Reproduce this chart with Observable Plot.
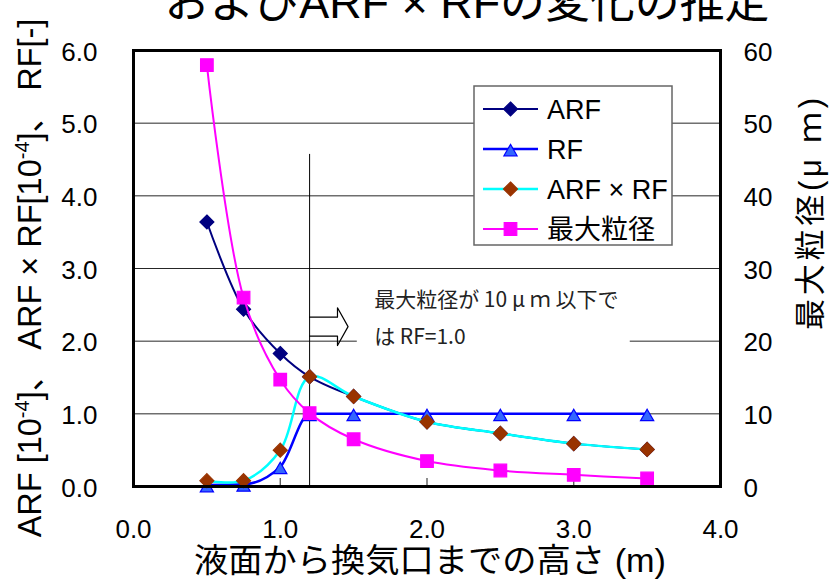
<!DOCTYPE html>
<html>
<head>
<meta charset="utf-8">
<script src="https://cdn.jsdelivr.net/npm/d3@7"></script>
<script src="https://cdn.jsdelivr.net/npm/@observablehq/plot@0.6"></script>
<style>
  body { margin: 0; background: #fff; }
  #chart { width: 832px; height: 580px; overflow: hidden; }
</style>
</head>
<body>
<div id="chart"></div>
<script>
// Height from the liquid surface to the vent (m)
const heights = [0.5, 0.75, 1.0, 1.2, 1.5, 2.0, 2.5, 3.0, 3.5];
// Airborne release fraction [10^-4]
const arf = [3.64, 2.44, 1.83, 1.51, 1.24, 0.89, 0.73, 0.59, 0.51];
// Respirable fraction [-]
const rf = [0.02, 0.03, 0.27, 1.0, 1.0, 1.0, 1.0, 1.0, 1.0];
// ARF x RF [10^-4]
const arfRf = [0.08, 0.08, 0.50, 1.51, 1.24, 0.89, 0.73, 0.59, 0.51];
// Maximum particle diameter (µm), right axis
const maxSize = [58, 26, 14.7, 10.1, 6.5, 3.5, 2.2, 1.6, 1.1];

const xTicks = [0, 1, 2, 3, 4];
const yTicks = [0, 1, 2, 3, 4, 5, 6];
const gridLines = [1, 2, 3, 4, 5];
const innerXTicks = [1, 2, 3];
const sizePerUnit = 10; // right axis (µm) per left-axis unit

// Height at which the maximum particle size falls to 10 µm
const threshold = { x: 1.2, yTop: 4.57 };
const noteLines = ["最大粒径が 10 μ ｍ 以下で", "は RF=1.0"];

const FONT = '"Liberation Sans", Arial, "Noto Sans CJK JP", sans-serif';
const JFONT = '"Noto Sans CJK JP", sans-serif';

const series = [
  { name: "ARF", values: arf, line: "#000080", width: 2, curve: "catmull-rom", symbol: d3.symbolDiamond2, r: 6.3, fill: "#000080", stroke: "#000080", dy: 0 },
  { name: "RF", values: rf, line: "#0000FF", width: 2.5, curve: "monotone-x", symbol: d3.symbolTriangle2, r: 6.3, fill: "#3366FF", stroke: "#0000FF", dy: 3 },
  { name: "ARF × RF", values: arfRf, line: "#00FFFF", width: 2.5, curve: "catmull-rom", symbol: d3.symbolDiamond2, r: 6.3, fill: "#993300", stroke: "#993300", dy: 0 },
  { name: "最大粒径", values: maxSize.map(v => v / sizePerUnit), line: "#FF00FF", width: 2, curve: "catmull-rom", symbol: d3.symbolSquare, r: 7.1, fill: "#FF00FF", stroke: "#FF00FF", dy: 0 }
];

// Block arrow pointing right from the threshold line (data units)
const arrowSpec = { y: 2.2, shaftEnd: 0.19, tip: 0.262, shaftHalf: 0.13, headHalf: 0.26 };
const ax = threshold.x;
const arrowPts = [
  [ax, arrowSpec.y + arrowSpec.shaftHalf],
  [ax + arrowSpec.shaftEnd, arrowSpec.y + arrowSpec.shaftHalf],
  [ax + arrowSpec.shaftEnd, arrowSpec.y + arrowSpec.headHalf],
  [ax + arrowSpec.tip, arrowSpec.y],
  [ax + arrowSpec.shaftEnd, arrowSpec.y - arrowSpec.headHalf],
  [ax + arrowSpec.shaftEnd, arrowSpec.y - arrowSpec.shaftHalf],
  [ax, arrowSpec.y - arrowSpec.shaftHalf]
];

// Note box placement (data units)
const noteBox = { x1: 1.525, x2: 3.385, y1: 1.85, y2: 2.78, textX: 1.64, line1Y: 2.56, line2Y: 2.06 };

const seriesMarks = series.flatMap(s => {
  const rows = heights.map((h, i) => ({ h, v: s.values[i] }));
  return [
    Plot.line(rows, { x: "h", y: "v", stroke: s.line, strokeWidth: s.width, curve: s.curve }),
    Plot.dot(rows, { x: "h", y: "v", symbol: s.symbol, r: s.r, fill: s.fill, stroke: s.stroke, strokeWidth: 1.2, dy: s.dy })
  ];
});

const plot = Plot.plot({
  width: 832,
  height: 580,
  marginLeft: 133,
  marginRight: 112,
  marginTop: 50,
  marginBottom: 94,
  x: { domain: [0, 4] },
  y: { domain: [0, 6] },
  style: { fontFamily: FONT, fontSize: "26px", color: "#000", background: "#fff" },
  marks: [
    Plot.ruleY(gridLines, { stroke: "#000", strokeWidth: 1, strokeOpacity: 0.85 }),
    Plot.tickX(innerXTicks, { x: d => d, insetTop: 428, stroke: "#444", strokeWidth: 1.2 }),
    Plot.axisX({ ticks: xTicks, tickSize: 0, tickPadding: 33, tickFormat: d3.format(".1f"), fontSize: 26, label: null }),
    Plot.axisY({ anchor: "left", ticks: yTicks, tickSize: 0, tickPadding: 36, dy: 2, tickFormat: d3.format(".1f"), fontSize: 26, label: null }),
    Plot.axisY({ anchor: "right", ticks: yTicks, tickSize: 0, tickPadding: 23, dy: 2, tickFormat: d => d3.format("d")(d * sizePerUnit), fontSize: 26, label: null }),
    Plot.rect([noteBox], { x1: "x1", x2: "x2", y1: "y1", y2: "y2", fill: "#fff" }),
    Plot.ruleX([threshold], { x: "x", y1: 0, y2: "yTop", stroke: "#000", strokeWidth: 1 }),
    Plot.line(arrowPts, { x: d => d[0], y: d => d[1], stroke: "#000", strokeWidth: 1.2, fill: "none" }),
    Plot.text([noteLines[0]], { x: noteBox.textX, y: noteBox.line1Y, text: d => d, textAnchor: "start", fontSize: 21, fontFamily: JFONT, fill: "#222" }),
    Plot.text([noteLines[1]], { x: noteBox.textX, y: noteBox.line2Y, text: d => d, textAnchor: "start", fontSize: 21, fontFamily: JFONT, fill: "#222" }),
    ...seriesMarks,
    Plot.frame({ stroke: "#000", strokeWidth: 3 })
  ]
});

const svg = d3.select(plot);

// Title (its upper half runs off the top of the page)
svg.append("text")
  .attr("x", 467).attr("y", 18)
  .attr("text-anchor", "middle")
  .attr("font-family", FONT).attr("font-size", 45)
  .attr("textLength", 605).attr("lengthAdjust", "spacingAndGlyphs")
  .text("およびARF × RFの変化の推定");

// Left axis title with superscripts
const lt = svg.append("text")
  .attr("transform", "translate(29,278) rotate(-90)")
  .attr("text-anchor", "middle")
  .attr("dy", "0.36em")
  .attr("font-family", FONT).attr("font-size", 32.5);
lt.append("tspan").text("ARF [10");
lt.append("tspan").attr("dy", -12).attr("font-size", 20).text("-4");
lt.append("tspan").attr("dy", 12).text("]、 ARF × RF[10");
lt.append("tspan").attr("dy", -12).attr("font-size", 20).text("-4");
lt.append("tspan").attr("dy", 12).text("]、 RF[-]");

// Right axis title
svg.append("text")
  .attr("transform", "translate(810,214) rotate(-90)")
  .attr("text-anchor", "middle")
  .attr("dy", "0.36em")
  .attr("font-family", FONT).attr("font-size", 31)
  .attr("textLength", 232).attr("lengthAdjust", "spacing")
  .text("最大粒径(μ ｍ)");

// X axis title
svg.append("text")
  .attr("x", 430).attr("y", 572)
  .attr("text-anchor", "middle")
  .attr("font-family", FONT).attr("font-size", 33)
  .attr("textLength", 472).attr("lengthAdjust", "spacingAndGlyphs")
  .text("液面から換気口までの高さ (m)");

// Legend
const lg = svg.append("g").attr("transform", "translate(474,86)");
lg.append("rect").attr("width", 198).attr("height", 159)
  .attr("fill", "#fff").attr("stroke", "#666").attr("stroke-width", 1.5);
series.forEach((s, i) => {
  const cy = 23 + i * 40;
  lg.append("line").attr("x1", 9).attr("x2", 64).attr("y1", cy).attr("y2", cy)
    .attr("stroke", s.line).attr("stroke-width", s.width);
  lg.append("path")
    .attr("d", d3.symbol(s.symbol, Math.PI * s.r * s.r)())
    .attr("transform", `translate(36.5,${cy + s.dy})`)
    .attr("fill", s.fill).attr("stroke", s.stroke).attr("stroke-width", 1.2);
  lg.append("text").attr("x", 73).attr("y", cy).attr("dy", "0.36em")
    .attr("text-anchor", "start")
    .attr("font-family", FONT).attr("font-size", 27)
    .text(s.name);
});

document.getElementById("chart").appendChild(plot);
</script>
</body>
</html>
